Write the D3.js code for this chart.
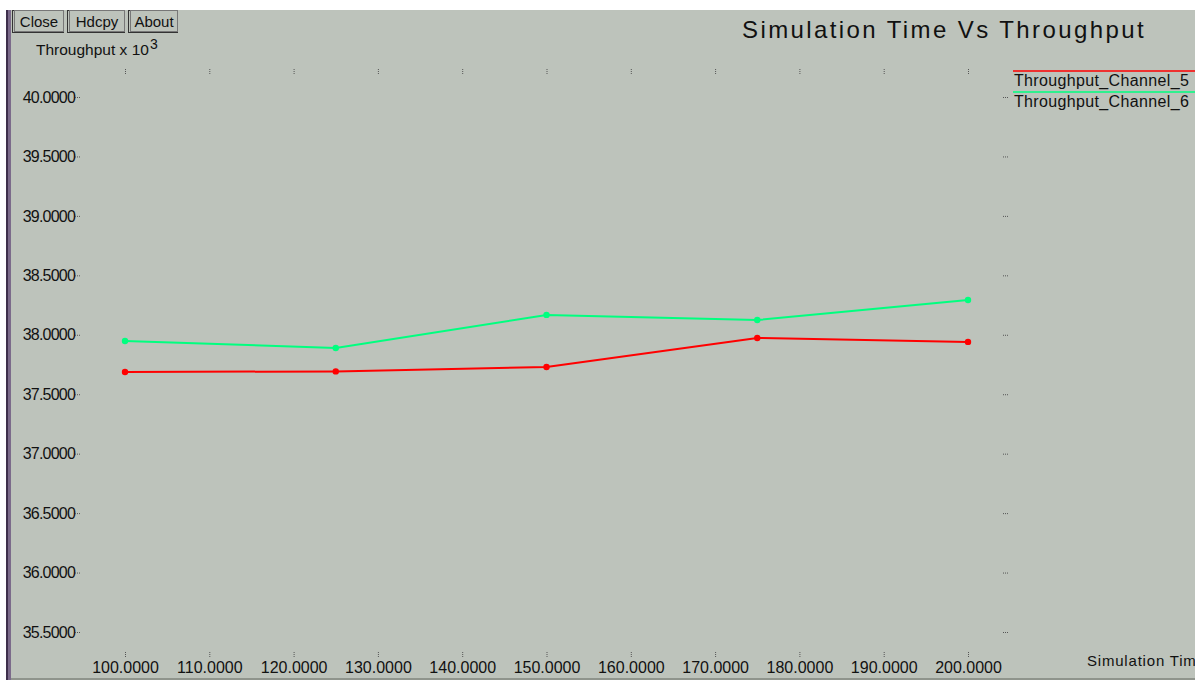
<!DOCTYPE html>
<html>
<head>
<meta charset="utf-8">
<script src="https://cdn.jsdelivr.net/npm/d3@7"></script>
<style>
  html, body { margin: 0; padding: 0; background: #fff; }
  svg text { font-family: "Liberation Sans", Arial, sans-serif; fill: #111; }
</style>
</head>
<body>
<div id="chart"></div>
<script>
const W = 1195, H = 680

// data
const simTime = [100, 125, 150, 175, 200]
const channel5 = [37.687, 37.692, 37.729, 37.973, 37.940]
const channel6 = [37.948, 37.889, 38.167, 38.124, 38.293]
const seriesNames = ['Throughput_Channel_5', 'Throughput_Channel_6']
const seriesColors = ['#ff0000', '#00ff7f']
const xTicks = [100, 110, 120, 130, 140, 150, 160, 170, 180, 190, 200]
const yTicks = [35.5, 36, 36.5, 37, 37.5, 38, 38.5, 39, 39.5, 40]
const buttons = ['Close', 'Hdcpy', 'About']

const svg = d3.select('#chart').append('svg')
  .attr('width', W).attr('height', H)

// window frame
svg.append('rect').attr('x', 6).attr('y', 10).attr('width', W - 6).attr('height', H - 10).attr('fill', '#bdc3bb')
svg.append('rect').attr('x', 6).attr('y', 10).attr('width', 2).attr('height', H - 10).attr('fill', '#3e2f4c')
svg.append('rect').attr('x', 8).attr('y', 10).attr('width', 3).attr('height', H - 10).attr('fill', '#7b6a8a')
svg.append('rect').attr('x', 11).attr('y', H - 2).attr('width', W - 11).attr('height', 2).attr('fill', '#8f948c')

// buttons
let bx = 12
const btnW = [52, 58, 50]
buttons.forEach((b, i) => {
  const g = svg.append('g').attr('transform', `translate(${bx}, 10)`)
  g.append('rect').attr('x', 0.5).attr('y', 0.5).attr('width', btnW[i] - 1).attr('height', 22)
    .attr('fill', 'none').attr('stroke', '#333')
  g.append('rect').attr('x', 2.5).attr('y', 0.5).attr('width', btnW[i] - 3).attr('height', 21)
    .attr('fill', 'none').attr('stroke', '#777')
  g.append('text').attr('x', btnW[i] / 2 + 1).attr('y', 16.5).attr('text-anchor', 'middle')
    .style('font-size', '15px').text(b)
  bx += btnW[i] + 3
})

// scales
const x = d3.scaleLinear().domain([100, 200]).range([125, 968])
const y = d3.scaleLinear().domain([35.5, 40]).range([632, 97])

// title
svg.append('text').attr('x', 1146).attr('y', 38).attr('text-anchor', 'end')
  .style('font-size', '24px').style('letter-spacing', '2.4px').text('Simulation Time Vs Throughput')

// y axis title
const yt = svg.append('text').attr('x', 36).attr('y', 55).style('font-size', '15.5px')
yt.append('tspan').text('Throughput x 10')
yt.append('tspan').attr('dx', 1).attr('dy', -6).style('font-size', '14px').text('3')

// x axis title
svg.append('text').attr('x', 1087).attr('y', 666).style('font-size', '15px')
  .style('letter-spacing', '0.8px').text('Simulation Time')

const fmt = d3.format('.4f')

// x ticks top and bottom, labels under
const xAxisBottom = d3.axisBottom(x).tickValues(xTicks).tickSize(0).tickPadding(0).tickFormat(fmt)
const gxb = svg.append('g').attr('transform', 'translate(0, 662)').call(xAxisBottom)
gxb.select('.domain').remove()
gxb.selectAll('text').style('font-size', '16px').attr('fill', '#111').attr('dy', '0.71em')

const tickMark = '#555'
svg.append('g').selectAll('line.tt').data(xTicks).join('line')
  .attr('x1', d => x(d) + 0.5).attr('x2', d => x(d) + 0.5).attr('y1', 69).attr('y2', 75)
  .attr('stroke', tickMark).attr('stroke-dasharray', '1,1')
svg.append('g').selectAll('line.tb').data(xTicks).join('line')
  .attr('x1', d => x(d) + 0.5).attr('x2', d => x(d) + 0.5).attr('y1', 652).attr('y2', 658)
  .attr('stroke', tickMark).attr('stroke-dasharray', '1,1')

// y ticks left labels, small marks both sides
const yAxisLeft = d3.axisLeft(y).tickValues(yTicks).tickSize(0).tickPadding(0).tickFormat(fmt)
const gyl = svg.append('g').attr('transform', 'translate(75, 0)').call(yAxisLeft)
gyl.select('.domain').remove()
gyl.selectAll('text').style('font-size', '16px').attr('fill', '#111').style('letter-spacing', '-0.8px')

svg.append('g').selectAll('line').data(yTicks).join('line')
  .attr('x1', 75).attr('x2', 80).attr('y1', d => y(d) + 0.5).attr('y2', d => y(d) + 0.5)
  .attr('stroke', tickMark).attr('stroke-dasharray', '1,1')
svg.append('g').selectAll('line').data(yTicks).join('line')
  .attr('x1', 1003).attr('x2', 1008).attr('y1', d => y(d) + 0.5).attr('y2', d => y(d) + 0.5)
  .attr('stroke', tickMark).attr('stroke-dasharray', '1,1')

// series
const series = [channel5, channel6]
const line = d3.line().x((d, i) => x(simTime[i])).y(d => y(d))

series.forEach((s, k) => {
  svg.append('path').attr('d', line(s)).attr('fill', 'none')
    .attr('stroke', seriesColors[k]).attr('stroke-width', 2)
  svg.append('g').selectAll('circle').data(s).join('circle')
    .attr('cx', (d, i) => x(simTime[i])).attr('cy', d => y(d)).attr('r', 3.2)
    .attr('fill', seriesColors[k])
})

// legend
seriesNames.forEach((n, k) => {
  const ly = 71 + k * 21
  svg.append('line').attr('x1', 1013).attr('x2', W).attr('y1', ly).attr('y2', ly)
    .attr('stroke', seriesColors[k]).attr('stroke-width', 1.5)
  svg.append('text').attr('x', 1014).attr('y', ly + 15).style('font-size', '16px')
    .style('letter-spacing', '0.35px').text(n)
})
</script>
</body>
</html>
